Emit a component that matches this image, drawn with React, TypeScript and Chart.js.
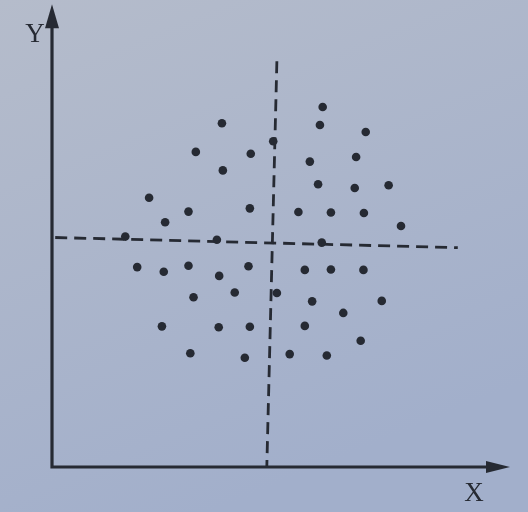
import React, { useEffect, useRef } from "react";
import { Chart, registerables } from "chart.js";

Chart.register(...registerables);

// scatter points (x, y), axes run 0..100
const pointX = [59.1, 37.1, 58.5, 68.5, 48.3, 31.4, 43.4, 56.3, 66.4, 37.3, 58.1, 66.1, 73.5, 21.2, 29.8, 43.2, 53.8, 60.9, 68.1, 24.7, 76.2, 16.0, 36.0, 58.9, 18.6, 24.4, 29.8, 36.5, 42.9, 55.2, 60.9, 68.0, 30.9, 39.9, 49.1, 56.8, 72.0, 63.6, 24.0, 36.4, 43.2, 55.2, 67.4, 30.2, 42.1, 51.9, 60.0];
const pointY = [77.8, 74.3, 73.9, 72.4, 70.4, 68.1, 67.7, 66.0, 67.0, 64.1, 61.1, 60.3, 60.9, 58.2, 55.2, 55.9, 55.1, 55.0, 54.9, 52.9, 52.1, 49.8, 49.1, 48.5, 43.2, 42.2, 43.5, 41.3, 43.4, 42.6, 42.7, 42.6, 36.7, 37.7, 37.6, 35.8, 35.9, 33.3, 30.4, 30.2, 30.3, 30.5, 27.3, 24.6, 23.6, 24.4, 24.1];

// dashed reference lines (endpoints)
const vLineX = [49.1, 46.9];
const vLineY = [87.7, 0];
const hLineX = [0.7, 88.6];
const hLineY = [49.6, 47.4];

const axisLabels = ["X", "Y"];

const INK = "#262a33";

const decorPlugin = {
  id: "decor",
  beforeDraw(chart: any) {
    const { ctx, width, height } = chart;
    ctx.save();
    const g = ctx.createLinearGradient(0, 0, width * 0.4, height);
    g.addColorStop(0, "#b5bccb");
    g.addColorStop(1, "#a2afcb");
    ctx.fillStyle = g;
    ctx.fillRect(0, 0, width, height);
    ctx.restore();
  },
  afterDraw(chart: any) {
    const { ctx, chartArea } = chart;
    const { left, right, top, bottom } = chartArea;
    ctx.save();
    ctx.strokeStyle = INK;
    ctx.fillStyle = INK;
    ctx.lineWidth = 3.2;
    // axes
    ctx.beginPath();
    ctx.moveTo(left, top + 15);
    ctx.lineTo(left, bottom);
    ctx.lineTo(right - 15, bottom);
    ctx.stroke();
    // arrow heads
    ctx.beginPath();
    ctx.moveTo(left, top);
    ctx.lineTo(left - 7, top + 24);
    ctx.lineTo(left + 7, top + 24);
    ctx.closePath();
    ctx.fill();
    ctx.beginPath();
    ctx.moveTo(right, bottom);
    ctx.lineTo(right - 24, bottom - 6);
    ctx.lineTo(right - 24, bottom + 6);
    ctx.closePath();
    ctx.fill();
    // labels
    ctx.font = "27px 'Liberation Serif', serif";
    ctx.textAlign = "center";
    ctx.textBaseline = "middle";
    ctx.fillText(axisLabels[1], left - 17, top + 31);
    ctx.fillText(axisLabels[0], right - 36, bottom + 27);
    ctx.restore();
  },
};

export default function App() {
  const ref = useRef<HTMLCanvasElement>(null);
  useEffect(() => {
    document.body.style.margin = "0";
    const pts = pointX.map((x, i) => ({ x, y: pointY[i] }));
    const chart = new Chart(ref.current as HTMLCanvasElement, {
      type: "scatter",
      data: {
        datasets: [
          {
            type: "line",
            data: vLineX.map((x, i) => ({ x, y: vLineY[i] })),
            borderColor: INK,
            borderWidth: 2.8,
            borderDash: [12, 7],
            pointRadius: 0,
            fill: false,
          } as any,
          {
            type: "line",
            data: hLineX.map((x, i) => ({ x, y: hLineY[i] })),
            borderColor: INK,
            borderWidth: 2.8,
            borderDash: [12, 7],
            pointRadius: 0,
            fill: false,
          } as any,
          {
            data: pts,
            backgroundColor: INK,
            borderColor: INK,
            pointRadius: 4.3,
            borderWidth: 0,
          },
        ],
      },
      options: {
        animation: false,
        responsive: false,
        events: [],
        layout: { padding: { left: 52, right: 18, top: 3, bottom: 45 } },
        plugins: { legend: { display: false }, tooltip: { enabled: false } },
        scales: {
          x: {
            type: "linear",
            display: false,
            min: 0,
            max: 100,
          },
          y: {
            type: "linear",
            display: false,
            min: 0,
            max: 100,
          },
        },
      },
      plugins: [decorPlugin],
    });
    return () => chart.destroy();
  }, []);
  return (
    <div style={{ width: 528, height: 512 }}>
      <canvas ref={ref} width={528} height={512} style={{ display: "block" }} />
    </div>
  );
}
